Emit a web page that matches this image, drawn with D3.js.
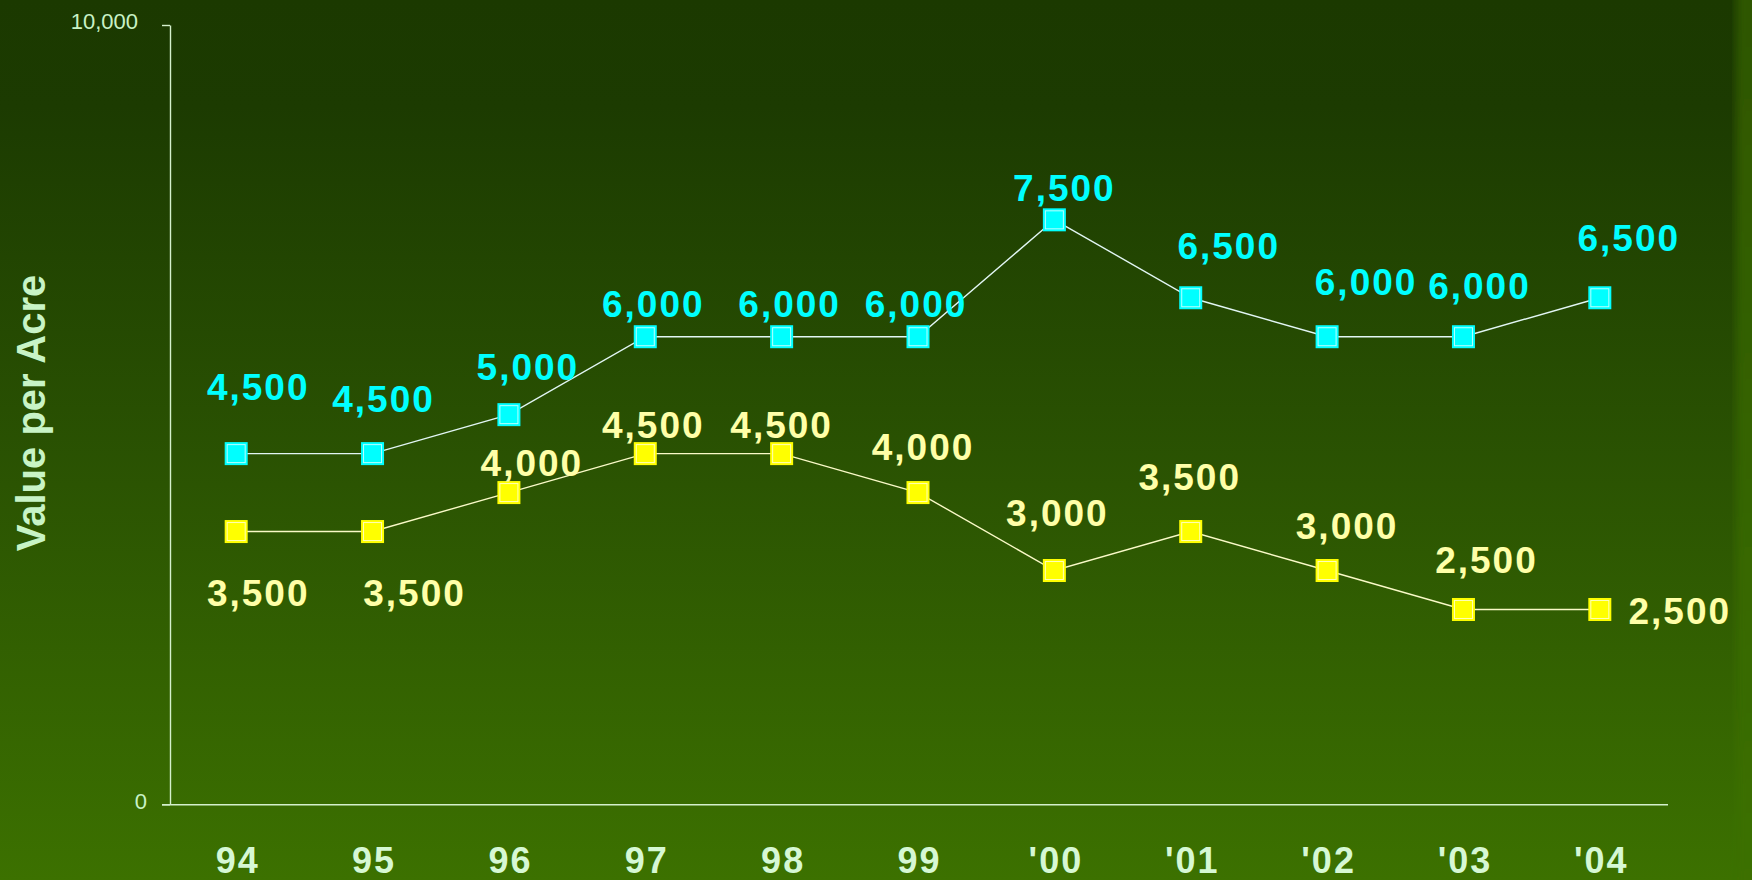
<!DOCTYPE html>
<html>
<head>
<meta charset="utf-8">
<script src="https://cdn.jsdelivr.net/npm/d3@7"></script>
<style>
  html, body { margin: 0; padding: 0; background: #1c3b01; }
  svg { display: block; }
</style>
</head>
<body>
<svg id="chart" width="1752" height="880"></svg>
<script>
// Land value per acre, two series, 1994-2004
const years = ["94", "95", "96", "97", "98", "99", "'00", "'01", "'02", "'03", "'04"];
const highValues = [4500, 4500, 5000, 6000, 6000, 6000, 7500, 6500, 6000, 6000, 6500];
const lowValues = [3500, 3500, 4000, 4500, 4500, 4000, 3000, 3500, 3000, 2500, 2500];
const yTicks = [0, 10000];
const yTitle = "Value per Acre";

// Hand-placed value label offsets (dx, baseline dy) from each marker
const highLabelOffsets = [[22, -54], [11, -42], [19, -35], [8, -20], [8, -20], [-2, -20], [10, -19], [38, -39], [39, -42], [16, -38], [29, -47]];
const lowLabelOffsets = [[22, 74], [42, 74], [23, -17], [8, -16], [0, -16], [5, -33], [3, -45], [-1, -42], [20, -32], [23, -36], [80, 15]];

const W = 1752, H = 880;
const svg = d3.select("#chart");

// Background gradient
const defs = svg.append("defs");
const bg = defs.append("linearGradient").attr("id", "bg").attr("x1", 0).attr("y1", 0).attr("x2", 0).attr("y2", 1);
bg.append("stop").attr("offset", 0).attr("stop-color", "#1b3900");
bg.append("stop").attr("offset", 0.12).attr("stop-color", "#1c3b01");
bg.append("stop").attr("offset", 0.55).attr("stop-color", "#2b5402");
bg.append("stop").attr("offset", 1).attr("stop-color", "#3c7100");
const edge = defs.append("linearGradient").attr("id", "edge").attr("x1", 0).attr("y1", 0).attr("x2", 0).attr("y2", 1);
edge.append("stop").attr("offset", 0).attr("stop-color", "#2e5600");
edge.append("stop").attr("offset", 1).attr("stop-color", "#3c7100");
defs.append("filter").attr("id", "soft").append("feGaussianBlur").attr("stdDeviation", 4);

svg.append("rect").attr("width", W).attr("height", H).attr("fill", "url(#bg)");
svg.append("rect").attr("x", 1736).attr("y", -10).attr("width", 40).attr("height", H + 20)
  .attr("fill", "url(#edge)").attr("filter", "url(#soft)");

// Scales
const x = d3.scalePoint().domain(years).range([168, 1668]).padding(0.5);
const y = d3.scaleLinear().domain([0, 10000]).range([804.3, 25]);

const axisColor = "#d4f0cc";
const tickTextColor = "#c9f2c6";

// Y axis
const yAxis = svg.append("g").attr("transform", "translate(170,0)")
  .call(d3.axisLeft(y).tickValues(yTicks).tickSize(8).tickSizeOuter(0).tickPadding(15).tickFormat(d3.format(",")));
yAxis.select(".domain").attr("stroke", axisColor).attr("stroke-width", 1.4);
yAxis.selectAll(".tick line").attr("stroke", axisColor).attr("stroke-width", 1.4);
yAxis.selectAll(".tick text")
  .attr("fill", tickTextColor)
  .attr("font-family", "Liberation Sans, Arial, sans-serif")
  .attr("font-size", 22)
  .attr("dy", "0.18em")
  .attr("dx", d => d === 10000 ? -9 : 0);

// X axis
const xAxis = svg.append("g").attr("transform", `translate(0,${y(0)})`)
  .call(d3.axisBottom(x).tickSize(0).tickSizeOuter(0));
xAxis.select(".domain").attr("stroke", axisColor).attr("stroke-width", 1.4)
  .attr("d", `M162,0.5H1668`);
xAxis.selectAll(".tick text")
  .attr("fill", "#d6f8d4")
  .attr("font-family", "Liberation Sans, Arial, sans-serif")
  .attr("font-weight", "bold")
  .attr("font-size", 36)
  .attr("letter-spacing", 2)
  .attr("dx", 1)
  .attr("y", 69)
  .attr("dy", 0);

// Axis title
svg.append("text")
  .attr("transform", "translate(45,413) rotate(-90)")
  .attr("text-anchor", "middle")
  .attr("font-family", "Liberation Sans, Arial, sans-serif")
  .attr("font-weight", "bold")
  .attr("font-size", 40)
  .attr("fill", "#c8f4c6")
  .text(yTitle);

const series = [
  { values: highValues, offsets: highLabelOffsets, fill: "#00ffff", inner: "#b8ffff", line: "#e2f6f4", label: "#00ffff" },
  { values: lowValues, offsets: lowLabelOffsets, fill: "#ffff00", inner: "#ffffb8", line: "#fafac8", label: "#ffffa8" }
];

const line = d3.line().x((d, i) => x(years[i])).y(d => y(d));
const S = 23;

series.forEach(s => {
  const g = svg.append("g");
  g.append("path").datum(s.values)
    .attr("d", line)
    .attr("fill", "none")
    .attr("stroke", s.line)
    .attr("stroke-width", 1.4);

  const pts = g.selectAll(".pt").data(s.values).enter().append("g")
    .attr("transform", (d, i) => `translate(${x(years[i])},${y(d)})`);
  pts.append("rect")
    .attr("x", -S / 2).attr("y", -S / 2).attr("width", S).attr("height", S)
    .attr("fill", s.fill);
  pts.append("rect")
    .attr("x", -S / 2 + 2.5).attr("y", -S / 2 + 2.5).attr("width", S - 5).attr("height", S - 5)
    .attr("fill", "none").attr("stroke", s.inner).attr("stroke-width", 1);

  g.selectAll(".lbl").data(s.values).enter().append("text")
    .attr("x", (d, i) => x(years[i]) + s.offsets[i][0])
    .attr("y", (d, i) => y(d) + s.offsets[i][1])
    .attr("text-anchor", "middle")
    .attr("font-family", "Liberation Sans, Arial, sans-serif")
    .attr("font-weight", "bold")
    .attr("font-size", 37)
    .attr("letter-spacing", 2)
    .attr("fill", s.label)
    .text(d => d3.format(",")(d));
});
</script>
</body>
</html>
